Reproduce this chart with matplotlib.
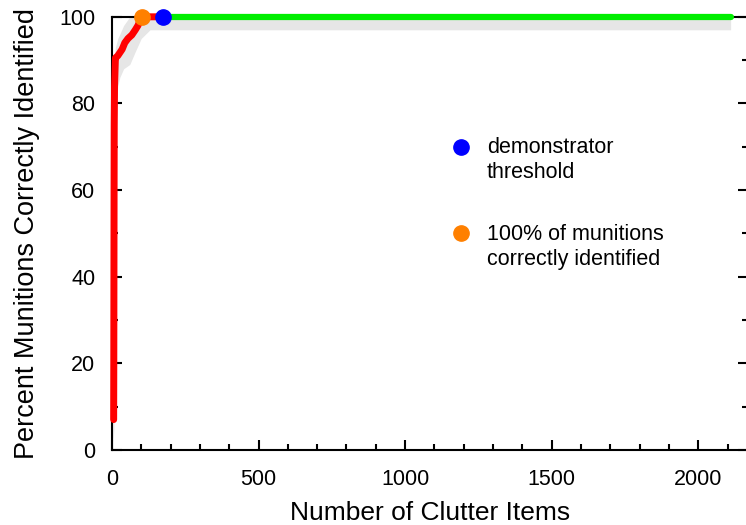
import numpy as np
import matplotlib.pyplot as plt

plt.rcParams['font.family'] = ['Liberation Sans', 'DejaVu Sans']

# ranked curve (before all munitions found)
red_x = [6, 6.5, 7, 7.5, 8, 9, 12, 20, 27, 35, 44, 55, 68, 80, 89, 95, 102, 174]
red_y = [7, 20, 40, 60, 75, 84, 90.5, 91, 91.7, 92.5, 94, 95, 95.8, 97, 98, 99, 100, 100]
# after threshold
green_x = [174, 2110]
green_y = [100, 100]
# bootstrap band
band_x = [3, 5, 7, 9, 12, 20, 27, 40, 61, 80, 100, 130, 2110]
band_hi = [6, 40, 85, 91, 93, 95, 96, 98, 100, 100, 100, 100, 100]
band_lo = [2, 3, 5, 40, 75, 84, 86, 88, 89, 92, 95, 97, 97]

thresh_pt = (174, 100)
all_found_pt = (102, 100)

fig = plt.figure(figsize=(7.46, 5.25), dpi=100)
ax = fig.add_axes([0.150, 0.143, 0.853, 0.825])

ax.fill_between(band_x, band_lo, band_hi, color='#e6e6e6', lw=0, zorder=1)
ax.plot(green_x, green_y, color='#00ee00', lw=4.5, solid_capstyle='round', zorder=3, clip_on=False)
ax.plot(red_x, red_y, color='#ff0000', lw=5, solid_capstyle='round', zorder=4, clip_on=False)
ax.plot(*all_found_pt, 'o', color='#ff8000', ms=11, zorder=5, clip_on=False)
ax.plot(*thresh_pt, 'o', color='#0000ff', ms=11, zorder=5, clip_on=False)

# legend drawn by hand
ax.plot(1189, 70, 'o', color='#0000ff', ms=11)
ax.text(1278, 72.2, 'demonstrator\nthreshold', fontsize=15.5, va='top', linespacing=1.25)
ax.plot(1189, 50, 'o', color='#ff8000', ms=11)
ax.text(1278, 52.2, '100% of munitions\ncorrectly identified', fontsize=15.5, va='top', linespacing=1.25)

ax.set_xlim(0, 2170)
ax.set_ylim(0, 100)
ax.set_xticks([0, 500, 1000, 1500, 2000])
ax.set_xticks(np.arange(0, 2170, 100), minor=True)
ax.set_yticks([0, 20, 40, 60, 80, 100])
ax.set_yticks(np.arange(0, 101, 10), minor=True)
ax.tick_params(direction='in', which='both', right=True, width=1.5, labelsize=15.5)
ax.tick_params(axis='x', pad=14)
ax.tick_params(axis='y', pad=12)
ax.tick_params(which='major', length=7)
ax.tick_params(which='minor', length=4)
for s in ax.spines.values():
    s.set_linewidth(1.5)

ax.set_xlabel('Number of Clutter Items', fontsize=19, labelpad=8)
ax.set_ylabel('Percent Munitions Correctly Identified', fontsize=19.5, labelpad=14)

fig.savefig('out.png', dpi=100)
